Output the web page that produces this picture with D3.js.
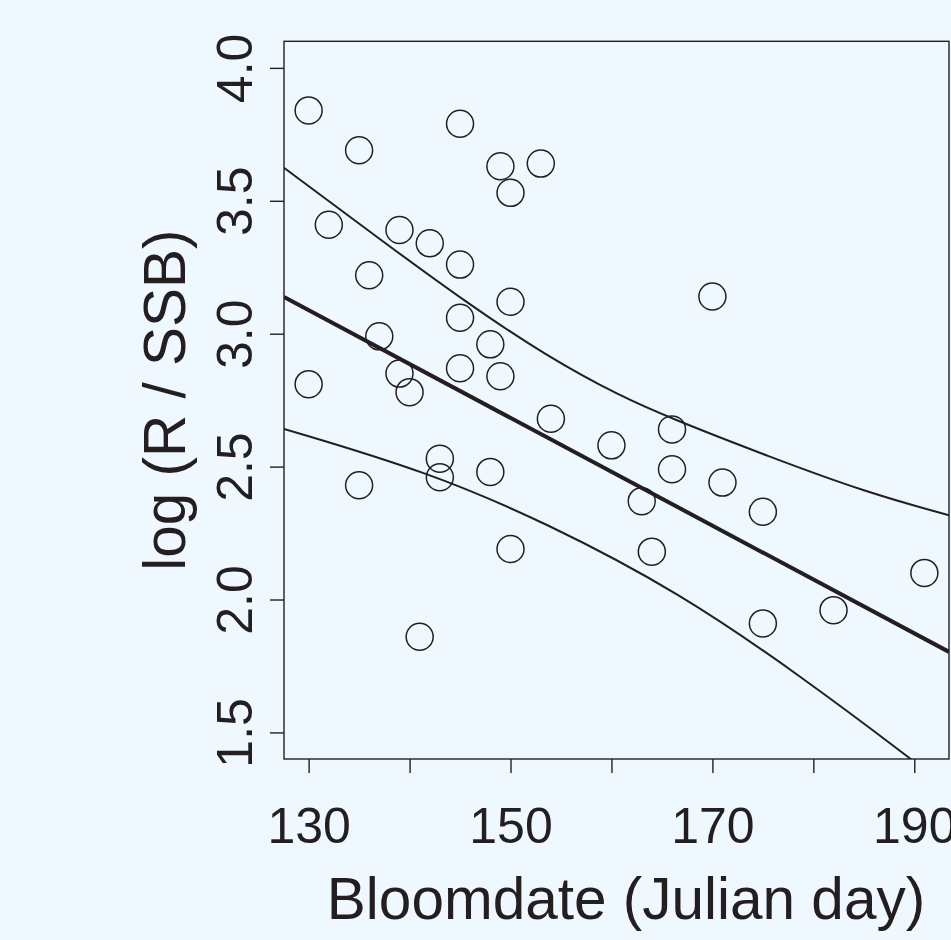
<!DOCTYPE html>
<html>
<head>
<meta charset="utf-8">
<script src="https://cdn.jsdelivr.net/npm/d3@7"></script>
<style>
  html, body { margin: 0; padding: 0; background: #f0f8ff; }
  svg { display: block; }
  text { font-family: "Liberation Sans", Arial, Helvetica, sans-serif; fill: #231f20; }
</style>
</head>
<body>
<svg id="chart" width="951" height="940"></svg>
<script>
// observed points: bloom date (Julian day) and log(R/SSB)
var bloomDay = [130, 135, 145, 149, 150, 153, 132, 139, 142, 145,
                136, 150, 170, 145, 137, 148, 130, 139, 140, 145,
                149, 154, 160, 166, 166, 171, 175, 143, 143, 148,
                163, 135, 150, 164, 191, 182, 175, 141];
var logRSSB  = [3.84, 3.69, 3.79, 3.63, 3.53, 3.64, 3.41, 3.39, 3.34, 3.26,
                3.22, 3.12, 3.14, 3.06, 2.99, 2.96, 2.81, 2.85, 2.78, 2.87,
                2.84, 2.68, 2.58, 2.64, 2.49, 2.44, 2.33, 2.53, 2.46, 2.48,
                2.37, 2.43, 2.19, 2.18, 2.10, 1.96, 1.91, 1.86];

// fitted line, read at the two edges of the plot region
var fitX = [127.56, 193.44];
var fitY = [3.138, 1.803];

// band curves
var upperX = [127.56, 137.1, 145.7, 153.6, 160.9, 166, 175.5, 185.4, 193.44];
var upperY = [3.624, 3.354, 3.115, 2.915, 2.764, 2.68, 2.539, 2.401, 2.317];
var lowerX = [127.56, 141.7, 153.6, 166.8, 178.8, 189.7, 193.44];
var lowerY = [2.642, 2.482, 2.288, 2.025, 1.711, 1.40, 1.288];

var xTicks = [130, 140, 150, 160, 170, 180, 190];
var xLabelled = [130, 150, 170, 190];
var yTicks = [1.5, 2.0, 2.5, 3.0, 3.5, 4.0];

var ink = "#231f20";
var box = {left: 284, right: 949, top: 41.3, bottom: 759};

var svg = d3.select("#chart");

var x = d3.scaleLinear().domain([127.56, 193.44]).range([box.left, box.right]);
var y = d3.scaleLinear().domain([1.4, 4.1]).range([box.bottom, box.top]);

svg.append("defs").append("clipPath").attr("id", "plotclip")
  .append("rect")
  .attr("x", box.left).attr("y", box.top)
  .attr("width", box.right - box.left).attr("height", box.bottom - box.top);

// x axis
var xAxis = d3.axisBottom(x)
  .tickValues(xTicks)
  .tickSize(14)
  .tickSizeOuter(0)
  .tickFormat(function(d) { return xLabelled.indexOf(d) >= 0 ? d3.format("d")(d) : ""; });

var gx = svg.append("g")
  .attr("transform", "translate(0," + box.bottom + ")")
  .call(xAxis);
gx.select(".domain").remove();
gx.selectAll(".tick line").attr("stroke", ink).attr("stroke-width", 1.4);
gx.selectAll(".tick text")
  .attr("y", 84.3)
  .attr("dy", null)
  .attr("fill", ink)
  .style("font-size", "50px");

// y axis
var yAxis = d3.axisLeft(y)
  .tickValues(yTicks)
  .tickSize(14)
  .tickSizeOuter(0)
  .tickFormat(d3.format(".1f"));

var gy = svg.append("g")
  .attr("transform", "translate(" + box.left + ",0)")
  .call(yAxis);
gy.select(".domain").remove();
gy.selectAll(".tick line").attr("stroke", ink).attr("stroke-width", 1.4);
gy.selectAll(".tick text")
  .attr("x", null)
  .attr("dy", null)
  .attr("text-anchor", "middle")
  .attr("transform", "translate(-32.3,0) rotate(-90)")
  .attr("fill", ink)
  .style("font-size", "50px");

// plot box
svg.append("rect")
  .attr("x", box.left).attr("y", box.top)
  .attr("width", box.right - box.left).attr("height", box.bottom - box.top)
  .attr("fill", "none")
  .attr("stroke", ink)
  .attr("stroke-width", 1.4);

var plot = svg.append("g").attr("clip-path", "url(#plotclip)");

var bandLine = d3.line()
  .x(function(d) { return x(d[0]); })
  .y(function(d) { return y(d[1]); })
  .curve(d3.curveBasis);

plot.append("path")
  .datum(d3.zip(upperX, upperY))
  .attr("d", bandLine)
  .attr("fill", "none").attr("stroke", ink).attr("stroke-width", 2);

plot.append("path")
  .datum(d3.zip(lowerX, lowerY))
  .attr("d", bandLine)
  .attr("fill", "none").attr("stroke", ink).attr("stroke-width", 2);

plot.append("path")
  .datum(d3.zip(fitX, fitY))
  .attr("d", d3.line().x(function(d) { return x(d[0]); }).y(function(d) { return y(d[1]); }))
  .attr("fill", "none").attr("stroke", ink).attr("stroke-width", 4);

plot.selectAll("circle.pt")
  .data(d3.zip(bloomDay, logRSSB))
  .enter()
  .append("circle")
  .attr("class", "pt")
  .attr("cx", function(d) { return x(d[0]); })
  .attr("cy", function(d) { return y(d[1]); })
  .attr("r", 13.5)
  .attr("fill", "none")
  .attr("stroke", ink)
  .attr("stroke-width", 1.5);

// axis titles
svg.append("text")
  .attr("x", 626)
  .attr("y", 919.3)
  .attr("text-anchor", "middle")
  .style("font-size", "58.5px")
  .text("Bloomdate (Julian day)");

svg.append("text")
  .attr("transform", "translate(185," + ((box.top + box.bottom) / 2) + ") rotate(-90)")
  .attr("text-anchor", "middle")
  .style("font-size", "58.5px")
  .text("log (R / SSB)");
</script>
</body>
</html>
